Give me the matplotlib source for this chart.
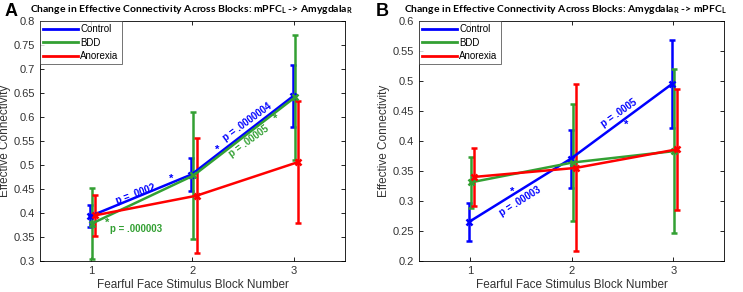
import matplotlib
matplotlib.use("Agg")
import matplotlib.pyplot as plt
from matplotlib.lines import Line2D
import numpy as np

blocks = [1, 2, 3]
groups = ["Control", "BDD", "Anorexia"]
colors = ["#0000ff", "#33a033", "#ff0000"]
offsets = [-0.01, 0.01, 0.04]

# panel A: mPFC_L -> Amygdala_R
a_mean = [[0.393, 0.480, 0.643],
          [0.378, 0.478, 0.641],
          [0.395, 0.436, 0.506]]
a_err = [[0.023, 0.035, 0.064],
         [0.074, 0.133, 0.130],
         [0.043, 0.120, 0.127]]

# panel B: Amygdala_R -> mPFC_L
b_mean = [[0.265, 0.370, 0.495],
          [0.331, 0.364, 0.383],
          [0.340, 0.355, 0.386]]
b_err = [[0.032, 0.048, 0.073],
          [0.043, 0.098, 0.136],
          [0.048, 0.139, 0.101]]

# annotations: text, x, y, rotation, color index
a_notes = [("p = .0002", 1.44, 0.440, 20, 0),
           ("*", 1.79, 0.472, 0, 0),
           ("p = .0000004", 2.54, 0.590, 36, 0),
           ("*", 2.245, 0.532, 0, 0),
           ("p = .00005", 2.56, 0.550, 36, 1),
           ("*", 2.81, 0.595, 0, 1),
           ("*", 1.16, 0.379, 0, 1),
           ("p = .000003", 1.45, 0.366, 0, 1)]
b_notes = [("p = .00003", 1.49, 0.300, 32, 0),
           ("*", 1.42, 0.316, 0, 0),
           ("p = .0005", 2.47, 0.446, 35, 0),
           ("*", 2.54, 0.426, 0, 0)]

plt.rcParams['font.family'] = ['Liberation Sans', 'DejaVu Sans']
plt.rcParams['mathtext.fontset'] = 'custom'
plt.rcParams['mathtext.bf'] = 'Lato:bold'

fig = plt.figure(figsize=(7.43, 2.92), dpi=100)
axA = fig.add_axes([0.0538, 0.106, 0.4105, 0.823])
axB = fig.add_axes([0.564, 0.106, 0.4105, 0.823])


def draw(ax, means, errs, notes, ylim, yticks):
    for i, g in enumerate(groups):
        xs = np.array(blocks) + offsets[i]
        ax.errorbar(xs, means[i], yerr=errs[i], color=colors[i], lw=1.8,
                     capsize=2.5, capthick=1.8, marker='x', ms=5, mew=1.8)
    for t, x, y, r, c in notes:
        ax.text(x, y, t, color=colors[c], fontsize=7 if t != "*" else 8,
                fontweight='bold', rotation=r, ha='center', va='center',
                rotation_mode='anchor')
    ax.set_xlim(0.5, 3.5)
    ax.set_ylim(*ylim)
    ax.set_xticks(blocks)
    ax.set_yticks(yticks)
    ax.set_yticklabels([f"{v:g}" for v in yticks])
    ax.tick_params(direction='in', top=True, right=True, labelsize=8,
                   labelcolor='#333333', length=3, width=0.6)
    for s in ax.spines.values():
        s.set_linewidth(0.6)
    ax.set_xlabel("Fearful Face Stimulus Block Number", fontsize=8.5,
                  color='#333333', labelpad=2)
    ax.set_ylabel("Effective Connectivity", fontsize=8.5, color='#333333',
                  labelpad=2)
    handles = [Line2D([], [], color=c, lw=2) for c in colors]
    leg = ax.legend(handles, groups, loc='upper left', fontsize=7,
                    frameon=True, fancybox=False, edgecolor='#333333',
                    borderaxespad=0, handlelength=3.6, handletextpad=0.2,
                    labelspacing=0.35, borderpad=0.35)
    leg.get_frame().set_linewidth(0.6)


draw(axA, a_mean, a_err, a_notes, (0.3, 0.8),
     [0.3, 0.35, 0.4, 0.45, 0.5, 0.55, 0.6, 0.65, 0.7, 0.75, 0.8])
draw(axB, b_mean, b_err, b_notes, (0.2, 0.6),
     [0.2, 0.25, 0.3, 0.35, 0.4, 0.45, 0.5, 0.55, 0.6])

fig.text(30 / 743, 1 - 10 / 292,
         r"Change in Effective Connectivity Across Blocks: mPFC$_\mathbf{L}$ -> Amygdala$_\mathbf{R}$",
         family='Lato', fontweight='bold', fontsize=7.5, va='center', ha='left')
fig.text(404 / 743, 1 - 10 / 292,
         r"Change in Effective Connectivity Across Blocks: Amygdala$_\mathbf{R}$ -> mPFC$_\mathbf{L}$",
         family='Lato', fontweight='bold', fontsize=7.5, va='center', ha='left')
fig.text(5 / 743, 1 - 11 / 292, "A", family='Liberation Sans',
         fontweight='bold', fontsize=13, va='center', ha='left')
fig.text(376 / 743, 1 - 11 / 292, "B", family='Liberation Sans',
         fontweight='bold', fontsize=13, va='center', ha='left')

fig.savefig("out.png", dpi=100)
